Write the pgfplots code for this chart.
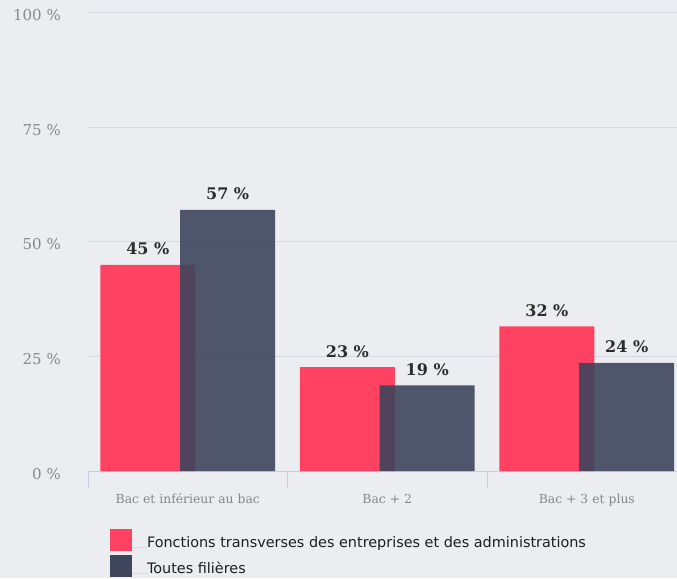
\documentclass[border=0pt]{standalone}
\usepackage{pgfplots}
\pgfplotsset{compat=1.18}
\usepackage{fontspec}
\setmainfont{DejaVu Serif}
\newfontfamily\legendfont{DejaVu Sans}
\definecolor{bgc}{RGB}{236,237,240}
\definecolor{redc}{RGB}{255,66,98}
\definecolor{darkc}{RGB}{62,69,92}
\definecolor{gridc}{RGB}{212,217,223}
\definecolor{axc}{RGB}{194,206,232}
\definecolor{tickc}{RGB}{135,135,135}
\definecolor{labc}{RGB}{45,45,45}
\definecolor{legc}{RGB}{30,30,30}
\begin{document}
\begin{tikzpicture}
\fill[bgc] (0,0) rectangle (677pt,578pt);
\useasboundingbox (0,0) rectangle (677pt,578pt);
\begin{axis}[
  at={(88pt,107pt)}, anchor=south west,
  scale only axis, width=589pt, height=458pt,
  xmin=-0.5, xmax=2.452, ymin=0, ymax=100,
  ybar,
  axis x line=bottom, axis y line=left,
  x axis line style={axc, line width=1pt, -},
  y axis line style={draw=none},
  ytick={0,25,50,75,100},
  yticklabels={0\ \%,25\ \%,50\ \%,75\ \%,100\ \%},
  ytick style={draw=none},
  ymajorgrids, grid style={gridc, line width=1pt},
  yticklabel style={font=\fontsize{15}{18}\selectfont, text=tickc, anchor=base east, inner sep=0pt, xshift=-10pt, yshift=-8pt},
  xtick={-0.5,0.5,1.5},
  xticklabels={},
  xtick style={axc, line width=1pt},
  tick align=outside, major tick length=17pt,
  extra x ticks={0,1,2},
  extra x tick labels={Bac et inférieur au bac, Bac + 2, Bac + 3 et plus},
  extra x tick style={major tick length=0pt, grid=none, xticklabel style={font=\fontsize{12.4}{15}\selectfont, text=tickc, anchor=base, inner sep=0pt, yshift=-32pt}},
  nodes near coords={\pgfmathprintnumber[fixed,precision=0,assume math mode=true]{\pgfplotspointmeta}\ \%},
  every node near coord/.append style={font=\bfseries\fontsize{16}{18}\selectfont, text=labc, anchor=base, inner sep=0pt, yshift=10pt, fill opacity=1, text opacity=1},
  legend style={at={(0.03735,-0.12664)}, anchor=north west, draw=none, fill=none, inner sep=0pt, outer sep=0pt, row sep=3.6pt, font=\legendfont\fontsize{14.4}{17}\selectfont, text=legc, cells={anchor=base west}, nodes={inner sep=0pt}},
  legend image code/.code={\fill[#1, fill opacity=1] (0pt,-3pt) rectangle (22pt,19pt); \path (0pt,0pt) -- (37pt,0pt);},
]
\addplot[fill=redc, draw=none, bar width=0.476, bar shift=-0.2] coordinates {(0,45) (1,22.7) (2,31.6)};
\addlegendentry{Fonctions transverses des entreprises et des administrations}
\addplot[fill=darkc, fill opacity=0.9, draw=none, bar width=0.476, bar shift=0.2] coordinates {(0,57) (1,18.7) (2,23.6)};
\addlegendentry{Toutes filières}
\end{axis}
\end{tikzpicture}
\end{document}
